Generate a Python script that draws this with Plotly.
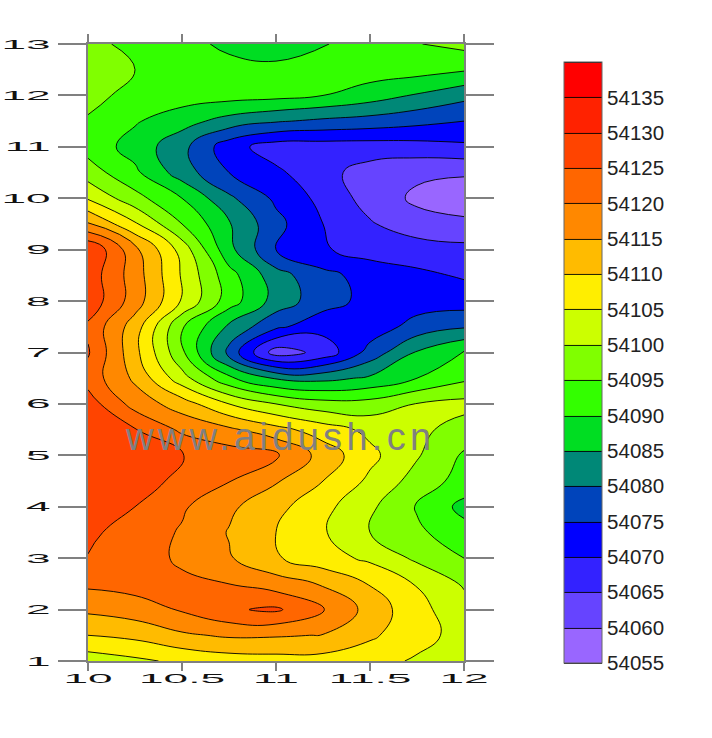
import plotly.graph_objects as go

x_values = [10, 10.25, 10.5, 10.75, 11, 11.25, 11.5, 11.75, 12]
y_values = [1, 1.5, 2, 2.5, 3, 3.5, 4, 4.5, 5, 5.5, 6, 6.5, 7, 7.5, 8, 8.5, 9, 9.5, 10, 10.5, 11, 11.5, 12, 12.5, 13]

z_y01_0 = [54102.2, 54104, 54106, 54107.5, 54108, 54108, 54107, 54104.3, 54101.5]
z_y01_5 = [54110, 54111.3, 54114.2, 54115.7, 54115.5, 54114.8, 54110.8, 54107, 54103]
z_y02_0 = [54116, 54117.6, 54120.5, 54124.4, 54125.8, 54120.2, 54113.2, 54106.5, 54102]
z_y02_5 = [54121, 54122, 54121, 54120, 54117.5, 54114.5, 54109.7, 54104.7, 54099.4]
z_y03_0 = [54124.8, 54122.3, 54119.2, 54115.5, 54110.5, 54107, 54104, 54099, 54095]
z_y03_5 = [54126, 54122.8, 54119.5, 54114.7, 54110, 54105.5, 54100, 54096, 54091.8]
z_y04_0 = [54128, 54125, 54120.7, 54116, 54111.5, 54106.5, 54101, 54094.5, 54088.5]
z_y04_5 = [54129, 54126.8, 54124, 54120.2, 54115.5, 54110, 54104, 54098, 54093]
z_y05_0 = [54130, 54127, 54125.1, 54122.5, 54121, 54113, 54106.3, 54100.5, 54094.3]
z_y05_5 = [54128.5, 54125.3, 54119, 54116, 54111.7, 54107.5, 54103.7, 54101.2, 54098]
z_y06_0 = [54127.5, 54118, 54112.5, 54105, 54100, 54097, 54097, 54100.2, 54101.5]
z_y06_5 = [54123, 54114, 54102, 54091, 54084.5, 54083.5, 54085.8, 54090, 54094]
z_y07_0 = [54125.5, 54111.5, 54096, 54078.3, 54062.5, 54066.5, 54077, 54085.5, 54090.5]
z_y07_5 = [54124, 54112.5, 54095.5, 54084, 54076, 54072, 54072, 54077, 54079.5]
z_y08_0 = [54128.5, 54117.5, 54104.5, 54092.5, 54083, 54077, 54073.5, 54072.5, 54072.5]
z_y08_5 = [54128, 54117.5, 54104.5, 54092, 54082, 54076.5, 54073, 54071, 54069.5]
z_y09_0 = [54130, 54116.5, 54103, 54086.5, 54075, 54070.5, 54068, 54067.5, 54066.5]
z_y09_5 = [54115.5, 54105.7, 54095, 54085.5, 54076.5, 54070, 54065.5, 54062, 54061]
z_y10_0 = [54104.5, 54096.8, 54090, 54081, 54074, 54068.5, 54063, 54059, 54057.5]
z_y10_5 = [54097.5, 54091, 54082.5, 54075, 54071, 54066.5, 54063, 54061, 54060.5]
z_y11_0 = [54093, 54088, 54081.5, 54072, 54067.5, 54067.5, 54067.5, 54068, 54069]
z_y11_5 = [54094.5, 54090.5, 54087, 54083, 54080.5, 54079, 54078, 54076.5, 54075]
z_y12_0 = [54096.5, 54093.5, 54092.5, 54092, 54091.5, 54090, 54087.5, 54084.5, 54081.5]
z_y12_5 = [54097, 54095, 54093, 54091.5, 54091, 54092, 54092.5, 54092, 54090.5]
z_y13_0 = [54096.5, 54093.5, 54091.5, 54089, 54088, 54089.7, 54092, 54094.8, 54096.5]

z_rows = [z_y01_0, z_y01_5, z_y02_0, z_y02_5, z_y03_0, z_y03_5, z_y04_0, z_y04_5, z_y05_0,
          z_y05_5, z_y06_0, z_y06_5, z_y07_0, z_y07_5, z_y08_0, z_y08_5, z_y09_0, z_y09_5,
          z_y10_0, z_y10_5, z_y11_0, z_y11_5, z_y12_0, z_y12_5, z_y13_0]

band_colors = ["#9966ff", "#6644ff", "#3322ff", "#0000ff", "#0044bb", "#008877", "#00dd22",
               "#33ff00", "#80ff00", "#ccff00", "#ffee00", "#ffbb00", "#ff8800", "#ff6600",
               "#ff4400", "#ff2200", "#ff0000"]
colorbar_ticks = [54055, 54060, 54065, 54070, 54075, 54080, 54085, 54090, 54095, 54100, 54105,
                  54110, 54115, 54120, 54125, 54130, 54135]
x_ticks = [10, 10.5, 11, 11.5, 12]
y_ticks = [1, 2, 3, 4, 5, 6, 7, 8, 9, 10, 11, 12, 13]

n = len(band_colors)
colorscale = []
for i, c in enumerate(band_colors):
    colorscale.append([i / n, c])
    colorscale.append([(i + 1) / n, c])

W, H = 712, 738
L, R, T, B = 88, 464, 44, 661

fig = go.Figure(go.Contour(
    x=x_values, y=y_values, z=z_rows,
    zmin=54055, zmax=54140,
    autocontour=False,
    contours=dict(start=54055, end=54140, size=5, coloring="fill", showlines=True),
    line=dict(color="#000000", width=0.9, smoothing=1.3),
    colorscale=colorscale,
    colorbar=dict(
        thickness=38, thicknessmode="pixels",
        len=601, lenmode="pixels",
        x=(564 - L) / (R - L), xanchor="left", xpad=0,
        y=(B - 62) / (B - T), yanchor="top", ypad=0,
        tickmode="array", tickvals=colorbar_ticks, ticktext=[str(t) for t in colorbar_ticks],
        ticks="", ticklabelposition="outside",
        tickfont=dict(family="Liberation Sans", size=20.5, color="#222222"),
        outlinecolor="#666666", outlinewidth=1,
    ),
))

axis_common = dict(mirror="ticks", showline=True, linecolor="#808080", linewidth=1.5,
                   showgrid=False, zeroline=False, ticks="outside", tickcolor="#808080", tickwidth=1.5,
                   tickfont=dict(family="Liberation Sans", size=13, color="#111111"))
fig.update_layout(
    width=W, height=H, autosize=False,
    margin=dict(l=L, r=W - R, t=T, b=H - B, pad=0),
    paper_bgcolor="white", plot_bgcolor="white",
    showlegend=False,
    xaxis=dict(range=[10, 12], tickmode="array", tickvals=x_ticks, ticktext=[str(t) for t in x_ticks],
               ticklen=8, ticklabelstandoff=-3, **axis_common),
    yaxis=dict(range=[1, 13], tickmode="array", tickvals=y_ticks, ticktext=[str(t) for t in y_ticks],
               ticklen=28, ticklabelstandoff=5, **axis_common),
    annotations=[dict(text="www.aidush.cn", xref="paper", yref="paper",
                      x=(280 - L) / (R - L), y=(B - 437) / (B - T), showarrow=False,
                      font=dict(family="Liberation Sans", size=38, color="#808080"))],
)

post = """
document.documentElement.style.overflow='hidden';
document.body.style.margin='0';
function stretch(sel,sx){document.querySelectorAll(sel).forEach(function(t){
  var x=parseFloat(t.getAttribute('x'))||0,y=parseFloat(t.getAttribute('y'))||0;
  var old=t.getAttribute('transform')||'';
  t.setAttribute('transform',old+' translate('+x+','+y+') scale('+sx+',1) translate('+(-x)+','+(-y)+')');
});}
stretch('.xtick text',3.4);stretch('.ytick text',3.4);
document.querySelectorAll('.annotation-text').forEach(function(t){t.style.letterSpacing='4.3px';});
"""
fig.write_html("out.html", post_script=post, config={"displayModeBar": False})
